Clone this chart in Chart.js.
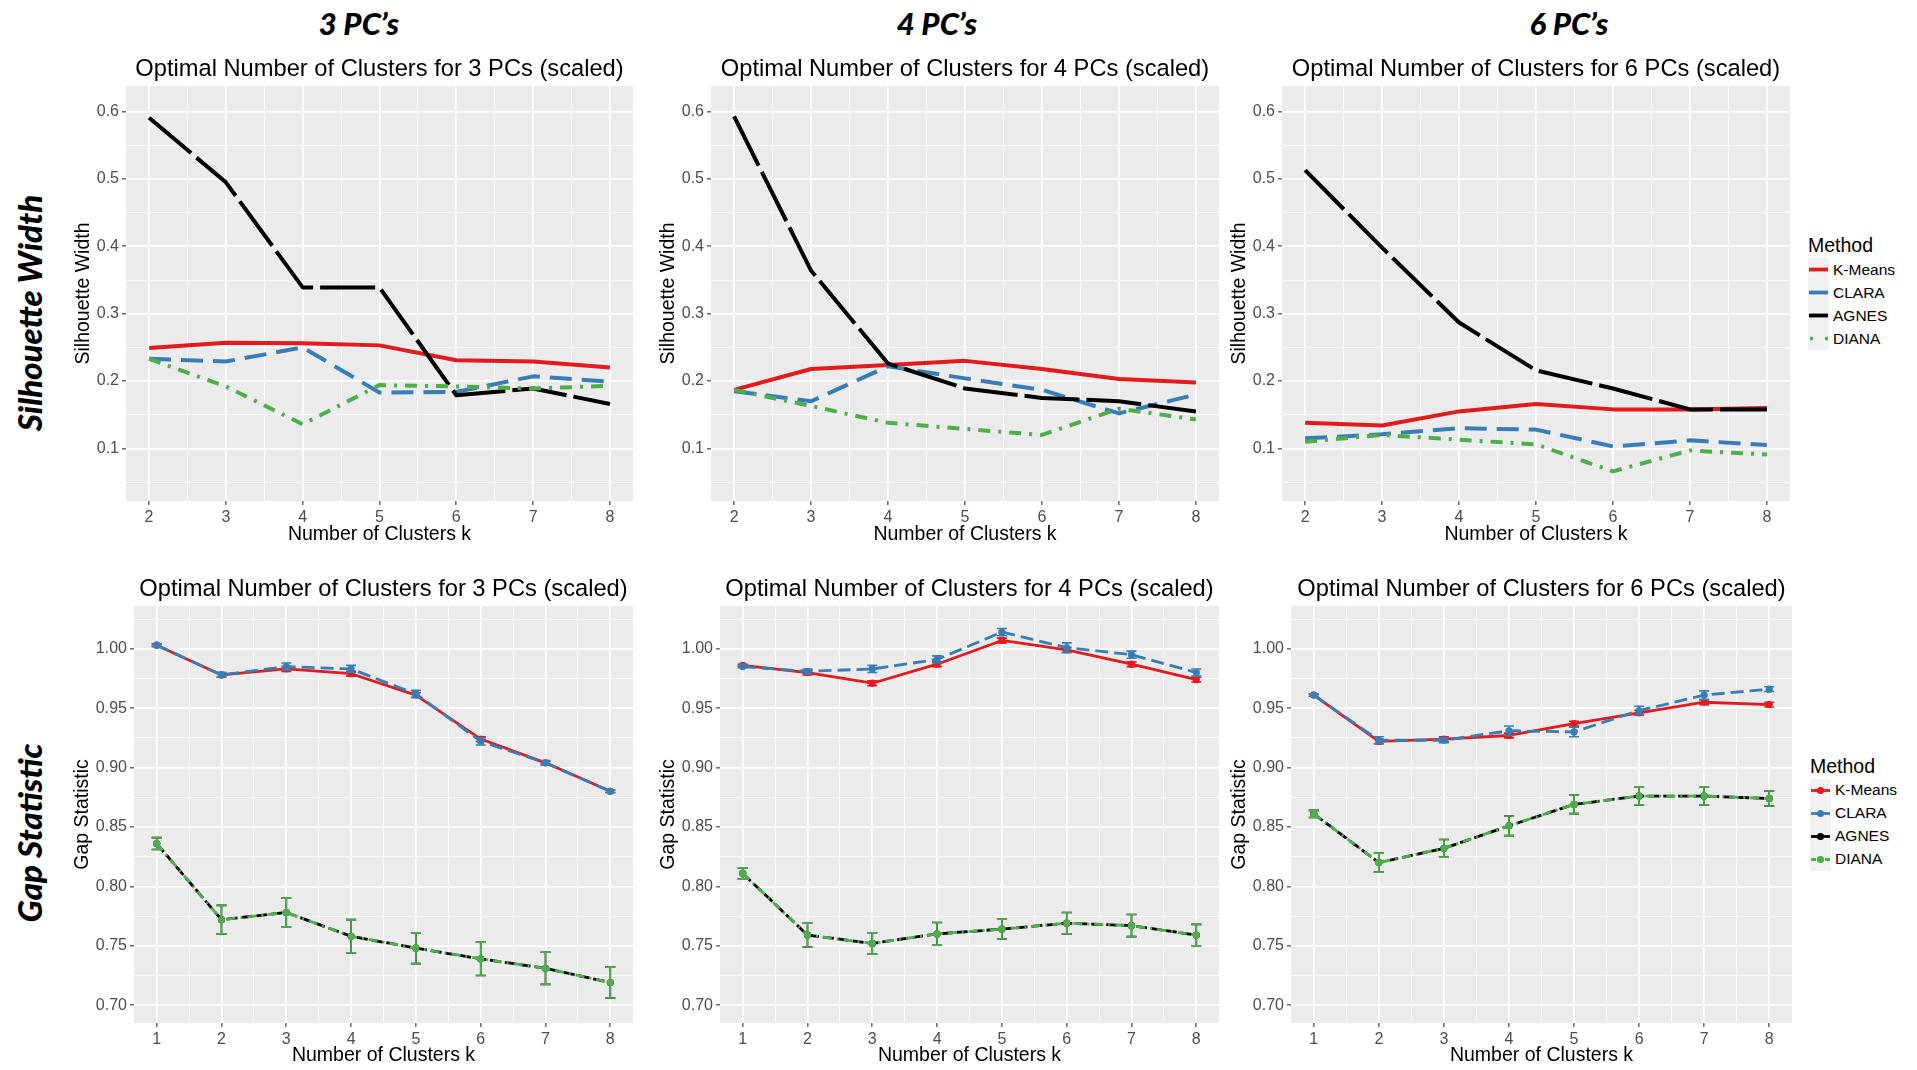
<!DOCTYPE html>
<html>
<head>
<meta charset="utf-8">
<script src="https://cdn.jsdelivr.net/npm/chart.js@4.4.1/dist/chart.umd.min.js"></script>
<style>
  body { margin: 0; background: #fff; width: 1917px; height: 1070px; position: relative; overflow: hidden;
         font-family: "Liberation Sans", Arial, sans-serif; }
  canvas.panel { position: absolute; }
  .colhead { position: absolute; font-family: Lato, "DejaVu Sans", sans-serif; font-weight: 900; font-style: italic;
             font-size: 31px; line-height: 1; white-space: nowrap; transform: translate(-50%, -50%); }
  .rowhead { position: absolute; font-family: Lato, "DejaVu Sans", sans-serif; font-weight: 900; font-style: italic;
             font-size: 33px; line-height: 1; white-space: nowrap; transform: translate(-50%, -50%) rotate(-90deg); }
  .legend { position: absolute; }
  .legend .ttl { font-size: 19.5px; line-height: 1; position: absolute; white-space: nowrap; }
  .legend .row { position: absolute; height: 23px; display: flex; align-items: center; white-space: nowrap; }
  .legend .row span { font-size: 15.5px; margin-left: 4px; }
</style>
</head>
<body>
<script>
// ---- data ----
const methods = ['K-Means', 'CLARA', 'AGNES', 'DIANA'];
const silK = [2, 3, 4, 5, 6, 7, 8];
const gapK = [1, 2, 3, 4, 5, 6, 7, 8];
const silTicks = [0.1, 0.2, 0.3, 0.4, 0.5, 0.6];
const gapTicks = [0.70, 0.75, 0.80, 0.85, 0.90, 0.95, 1.00];

// Silhouette width
const sil3KMeans = [0.249, 0.257, 0.256, 0.253, 0.231, 0.229, 0.220];
const sil3Clara  = [0.233, 0.229, 0.250, 0.183, 0.184, 0.207, 0.199];
const sil3Agnes  = [0.591, 0.495, 0.339, 0.339, 0.179, 0.189, 0.166];
const sil3Diana  = [0.233, 0.192, 0.136, 0.194, 0.192, 0.189, 0.193];

const sil4KMeans = [0.187, 0.218, 0.224, 0.230, 0.218, 0.203, 0.198];
const sil4Clara  = [0.185, 0.170, 0.222, 0.204, 0.187, 0.152, 0.180];
const sil4Agnes  = [0.593, 0.364, 0.226, 0.189, 0.175, 0.170, 0.155];
const sil4Diana  = [0.187, 0.163, 0.138, 0.129, 0.120, 0.159, 0.143];

const sil6KMeans = [0.138, 0.134, 0.155, 0.166, 0.158, 0.158, 0.160];
const sil6Clara  = [0.115, 0.121, 0.130, 0.128, 0.103, 0.112, 0.105];
const sil6Agnes  = [0.513, 0.398, 0.287, 0.216, 0.189, 0.158, 0.158];
const sil6Diana  = [0.110, 0.120, 0.113, 0.106, 0.066, 0.097, 0.091];

// Gap statistic (+ standard errors)
const gap3KMeans = [1.003, 0.978, 0.983, 0.979, 0.961, 0.924, 0.904, 0.880];
const gap3Clara  = [1.003, 0.978, 0.985, 0.983, 0.962, 0.922, 0.904, 0.880];
const gap3Agnes  = [0.836, 0.772, 0.778, 0.758, 0.748, 0.739, 0.731, 0.719];
const gap3Diana  = [0.836, 0.772, 0.778, 0.758, 0.748, 0.739, 0.731, 0.719];
const gap3KMeansSe = [0.001, 0.002, 0.002, 0.002, 0.002, 0.002, 0.001, 0.001];
const gap3ClaraSe  = [0.001, 0.002, 0.003, 0.003, 0.003, 0.003, 0.002, 0.001];
const gap3AgnesSe  = [0.005, 0.012, 0.012, 0.014, 0.013, 0.014, 0.0135, 0.013];
const gap3DianaSe  = [0.005, 0.012, 0.012, 0.014, 0.013, 0.014, 0.0135, 0.013];

const gap4KMeans = [0.986, 0.980, 0.971, 0.987, 1.007, 0.999, 0.987, 0.974];
const gap4Clara  = [0.985, 0.981, 0.983, 0.991, 1.014, 1.001, 0.995, 0.980];
const gap4Agnes  = [0.811, 0.759, 0.752, 0.760, 0.764, 0.769, 0.767, 0.759];
const gap4Diana  = [0.811, 0.759, 0.752, 0.760, 0.764, 0.769, 0.767, 0.759];
const gap4KMeansSe = [0.001, 0.002, 0.002, 0.002, 0.002, 0.002, 0.002, 0.002];
const gap4ClaraSe  = [0.001, 0.002, 0.003, 0.003, 0.003, 0.004, 0.003, 0.003];
const gap4AgnesSe  = [0.0046, 0.010, 0.009, 0.0096, 0.0083, 0.009, 0.0093, 0.009];
const gap4DianaSe  = [0.0046, 0.010, 0.009, 0.0096, 0.0083, 0.009, 0.0093, 0.009];

const gap6KMeans = [0.961, 0.922, 0.924, 0.927, 0.937, 0.946, 0.955, 0.953];
const gap6Clara  = [0.961, 0.923, 0.923, 0.931, 0.930, 0.948, 0.961, 0.966];
const gap6Agnes  = [0.861, 0.820, 0.832, 0.851, 0.869, 0.876, 0.876, 0.874];
const gap6Diana  = [0.861, 0.820, 0.832, 0.851, 0.869, 0.876, 0.876, 0.874];
const gap6KMeansSe = [0.001, 0.002, 0.002, 0.002, 0.002, 0.002, 0.002, 0.002];
const gap6ClaraSe  = [0.001, 0.003, 0.002, 0.004, 0.004, 0.0036, 0.0036, 0.002];
const gap6AgnesSe  = [0.003, 0.008, 0.0074, 0.0083, 0.0078, 0.0074, 0.0074, 0.0063];
const gap6DianaSe  = [0.003, 0.008, 0.0074, 0.0083, 0.0078, 0.0074, 0.0074, 0.0063];

// ---- styles ----
const methodColors = ['#E41A1C', '#377EB8', '#000000', '#4DAF4A'];
const silDash = [[], [22, 10], [55, 7], [12, 8, 3, 8]];
const gapDash = [[], [13, 6], [11, 4], [9, 5, 2, 5]];
const FONT = '"Liberation Sans", Arial, sans-serif';
Chart.defaults.font.family = FONT;

const AXW = 72;   // y axis box width
const RP = 8;     // right padding
const TITLE_SIZE = 23.7;
const AXTITLE_SIZE = 19.5;
const TICK_SIZE = 16;

const rowStyle = {
  sil: { yMin: 0.022, yMax: 0.638, xMin: 1.7, xMax: 8.3, titleY: 69, yTitleGap: 42, xh: 56, xTitleGap: 34,
         ticks: silTicks, ks: silK, yLabel: 'Silhouette Width', fmt: 1 },
  gap: { yMin: 0.685, yMax: 1.036, xMin: 0.65, xMax: 8.35, titleY: 589.5, yTitleGap: 51, xh: 46, xTitleGap: 33,
         ticks: gapTicks, ks: gapK, yLabel: 'Gap Statistic', fmt: 2 }
};

const panels = [
  { kind: 'sil', pcs: 3, l: 126, t: 86, r: 633, b: 501, series: [sil3KMeans, sil3Clara, sil3Agnes, sil3Diana] },
  { kind: 'sil', pcs: 4, l: 711, t: 86, r: 1219, b: 501, series: [sil4KMeans, sil4Clara, sil4Agnes, sil4Diana] },
  { kind: 'sil', pcs: 6, l: 1282, t: 86, r: 1790, b: 501, series: [sil6KMeans, sil6Clara, sil6Agnes, sil6Diana] },
  { kind: 'gap', pcs: 3, l: 134, t: 606, r: 633, b: 1023, series: [gap3KMeans, gap3Clara, gap3Agnes, gap3Diana],
    se: [gap3KMeansSe, gap3ClaraSe, gap3AgnesSe, gap3DianaSe] },
  { kind: 'gap', pcs: 4, l: 720, t: 606, r: 1219, b: 1023, series: [gap4KMeans, gap4Clara, gap4Agnes, gap4Diana],
    se: [gap4KMeansSe, gap4ClaraSe, gap4AgnesSe, gap4DianaSe] },
  { kind: 'gap', pcs: 6, l: 1291, t: 606, r: 1792, b: 1023, series: [gap6KMeans, gap6Clara, gap6Agnes, gap6Diana],
    se: [gap6KMeansSe, gap6ClaraSe, gap6AgnesSe, gap6DianaSe] }
];

// major ticks plus ggplot-style minor breaks halfway between them
function withMinor(majors, min, max) {
  const step = majors[1] - majors[0];
  const out = [];
  for (let v = majors[0] - step / 2; v <= majors[majors.length - 1] + step / 2 + 1e-9; v += step / 2) {
    if (v >= min && v <= max) out.push(Math.round(v * 1000) / 1000);
  }
  return out;
}
const isMajor = (v, majors) => majors.some(m => Math.abs(m - v) < 1e-6);

const panelBg = {
  id: 'panelBg',
  beforeDraw(chart) {
    const { ctx, chartArea: a } = chart;
    ctx.save();
    ctx.fillStyle = '#EBEBEB';
    ctx.fillRect(a.left, a.top, a.width, a.height);
    ctx.restore();
  }
};

const errorBars = {
  id: 'errorBars',
  afterDatasetDraw(chart, args) {
    const ds = chart.data.datasets[args.index];
    if (!ds.errors) return;
    const { ctx } = chart;
    const x = chart.scales.x, y = chart.scales.y;
    ctx.save();
    ctx.strokeStyle = ds.borderColor;
    ctx.lineWidth = 1.6;
    ctx.setLineDash([]);
    ds.data.forEach((p, i) => {
      const e = ds.errors[i];
      const px = x.getPixelForValue(p.x);
      const y1 = y.getPixelForValue(p.y - e), y2 = y.getPixelForValue(p.y + e);
      ctx.beginPath();
      ctx.moveTo(px, y1); ctx.lineTo(px, y2);
      ctx.moveTo(px - 5, y1); ctx.lineTo(px + 5, y1);
      ctx.moveTo(px - 5, y2); ctx.lineTo(px + 5, y2);
      ctx.stroke();
    });
    ctx.restore();
  }
};

function makePanel(p) {
  const rs = rowStyle[p.kind];
  const titleLH = TITLE_SIZE * 1.2;
  const titleBox = Math.round(p.t - rs.titleY + titleLH / 2 + 4);
  const titlePadBottom = titleBox - titleLH - 4;
  const axLH = AXTITLE_SIZE * 1.2;

  const canvas = document.createElement('canvas');
  canvas.className = 'panel';
  const w = AXW + (p.r - p.l) + RP;
  const h = titleBox + (p.b - p.t) + rs.xh;
  canvas.width = w; canvas.height = h;
  canvas.style.left = (p.l - AXW) + 'px';
  canvas.style.top = (p.t - titleBox) + 'px';
  document.body.appendChild(canvas);

  const yAll = withMinor(rs.ticks, rs.yMin, rs.yMax);
  const xAll = withMinor(rs.ks, rs.xMin, rs.xMax);
  const dash = p.kind === 'sil' ? silDash : gapDash;

  const datasets = p.series.map((vals, i) => ({
    label: methods[i],
    data: rs.ks.map((k, j) => ({ x: k, y: vals[j] })),
    errors: p.se ? p.se[i] : null,
    borderColor: methodColors[i],
    backgroundColor: methodColors[i],
    borderWidth: p.kind === 'sil' ? 4 : 2.8,
    borderDash: dash[i],
    borderJoinStyle: 'round',
    borderCapStyle: 'butt',
    pointRadius: p.kind === 'sil' ? 0 : 3.6,
    pointBorderWidth: 0,
    pointHoverRadius: 0,
    tension: 0,
    fill: false,
    order: 4 - i
  }));

  const gridOpts = majors => ({
    color: '#FFFFFF',
    lineWidth: c => (c.tick && isMajor(c.tick.value, majors)) ? 1.7 : 0.85,
    tickColor: c => (c.tick && isMajor(c.tick.value, majors)) ? '#333333' : 'rgba(0,0,0,0)',
    tickLength: 4,
    tickWidth: 1.1,
    drawTicks: true
  });

  new Chart(canvas, {
    type: 'line',
    data: { datasets },
    options: {
      responsive: false,
      animation: false,
      layout: { padding: { left: 0, right: RP, top: 0, bottom: 0 } },
      plugins: {
        legend: { display: false },
        tooltip: { enabled: false },
        title: {
          display: true,
          text: 'Optimal Number of Clusters for ' + p.pcs + ' PCs (scaled)',
          fullSize: false,
          color: '#000',
          font: { size: TITLE_SIZE, weight: 'normal' },
          padding: { top: 4, bottom: titlePadBottom }
        }
      },
      scales: {
        x: {
          type: 'linear', bounds: 'data', min: rs.xMin, max: rs.xMax,
          afterBuildTicks: ax => { ax.ticks = xAll.map(v => ({ value: v })); },
          afterFit: ax => { ax.height = rs.xh; },
          ticks: {
            autoSkip: false, maxRotation: 0, padding: 3, color: '#4D4D4D', font: { size: TICK_SIZE },
            callback: v => isMajor(v, rs.ks) ? String(v) : ''
          },
          grid: gridOpts(rs.ks),
          border: { display: false },
          title: {
            display: true, text: 'Number of Clusters k', color: '#000', font: { size: AXTITLE_SIZE },
            padding: { top: 0, bottom: rs.xh - rs.xTitleGap - axLH / 2 }
          }
        },
        y: {
          type: 'linear', bounds: 'data', min: rs.yMin, max: rs.yMax,
          afterBuildTicks: ax => { ax.ticks = yAll.map(v => ({ value: v })); },
          afterFit: ax => { ax.width = AXW; },
          ticks: {
            autoSkip: false, padding: 3, color: '#4D4D4D', font: { size: TICK_SIZE },
            callback: v => isMajor(v, rs.ticks) ? v.toFixed(rs.fmt) : ''
          },
          grid: gridOpts(rs.ticks),
          border: { display: false },
          title: {
            display: true, text: rs.yLabel, color: '#000', font: { size: AXTITLE_SIZE },
            padding: { top: AXW - rs.yTitleGap - axLH / 2, bottom: 0 }
          }
        }
      }
    },
    plugins: [panelBg, errorBars]
  });
}

panels.forEach(makePanel);

// ---- column / row headings ----
function addText(cls, text, x, y) {
  const d = document.createElement('div');
  d.className = cls;
  d.textContent = text;
  d.style.left = x + 'px';
  d.style.top = y + 'px';
  document.body.appendChild(d);
}
addText('colhead', '3 PC\u2019s', 359, 23);
addText('colhead', '4 PC\u2019s', 937, 23);
addText('colhead', '6 PC\u2019s', 1569, 23);
addText('rowhead', 'Silhouette Width', 29, 313);
addText('rowhead', 'Gap Statistic', 29, 833);

// ---- legends (ggplot style keys) ----
function addLegend(x, titleY, rowYs, withPoints) {
  const box = document.createElement('div');
  box.className = 'legend';
  box.style.left = x + 'px';
  box.style.top = '0px';
  const t = document.createElement('div');
  t.className = 'ttl';
  t.textContent = 'Method';
  t.style.left = '0px';
  t.style.top = (titleY - 10) + 'px';
  box.appendChild(t);
  methods.forEach((m, i) => {
    const row = document.createElement('div');
    row.className = 'row';
    row.style.left = '0px';
    row.style.top = (rowYs[i] - 11.5) + 'px';
    const c = methodColors[i];
    let line;
    if (withPoints) {
      const da = i === 3 ? ' stroke-dasharray="5,2"' : '';
      line = `<line x1="1" y1="11.5" x2="20" y2="11.5" stroke="${c}" stroke-width="2.8"${da}/>` +
             `<circle cx="10.5" cy="11.5" r="3.6" fill="${c}"/>`;
    } else if (i === 3) {
      line = `<line x1="2" y1="11.5" x2="20" y2="11.5" stroke="${c}" stroke-width="3.5" stroke-dasharray="3,12"/>`;
    } else {
      line = `<line x1="1" y1="11.5" x2="20" y2="11.5" stroke="${c}" stroke-width="3.8"/>`;
    }
    row.innerHTML = `<svg width="21" height="23"><rect x="0" y="0" width="21" height="23" fill="#F2F2F2"/>${line}</svg>` +
                    `<span>${m}</span>`;
    box.appendChild(row);
  });
  document.body.appendChild(box);
}
addLegend(1808, 246, [269.5, 292.5, 315.5, 338.5], false);
addLegend(1810, 767, [790, 813, 836, 859], true);
</script>
</body>
</html>
